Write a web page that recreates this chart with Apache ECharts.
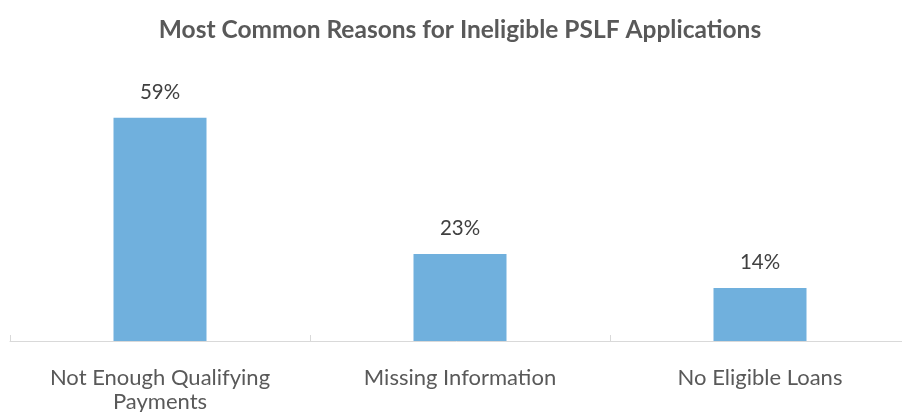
<!DOCTYPE html>
<html>
<head>
<meta charset="utf-8">
<script src="https://cdn.jsdelivr.net/npm/echarts@6/dist/echarts.min.js"></script>
<style>
  html, body { margin: 0; padding: 0; background: #fff; }
  #chart { width: 902px; height: 412px; }
</style>
</head>
<body>
<div id="chart"></div>
<script>
// Reasons an application was found ineligible, share of all ineligible (%)
const categories = ['Not Enough Qualifying Payments', 'Missing Information', 'No Eligible Loans'];
const shares = [59, 23, 14];
const categoryLabels = ['Not Enough Qualifying\nPayments', 'Missing Information', 'No Eligible Loans'];

const chart = echarts.init(document.getElementById('chart'), null, { renderer: 'canvas' });

chart.setOption({
  animation: false,
  title: {
    text: 'Most Common Reasons for Ineligible PSLF Applications',
    left: 455,
    textAlign: 'center',
    top: 13,
    textStyle: {
      fontFamily: 'Lato',
      fontSize: 24.5,
      fontWeight: 'bold',
      color: '#595959'
    }
  },
  grid: {
    left: 10, width: 900, top: 76, height: 265,
    containLabel: false,
    outerBoundsMode: 'none'
  },
  xAxis: {
    type: 'category',
    data: categories,
    axisLine: { show: true, lineStyle: { color: '#d9d9d9', width: 1 } },
    axisTick: { show: true, alignWithLabel: false, length: 6, inside: true, lineStyle: { color: '#d9d9d9' } },
    axisLabel: {
      margin: 25,
      fontFamily: 'Lato',
      fontSize: 22,
      color: '#595959',
      lineHeight: 24,
      formatter: (v, i) => categoryLabels[i]
    }
  },
  yAxis: {
    type: 'value',
    min: 0,
    max: 70,
    show: false,
    splitLine: { show: false }
  },
  series: [{
    type: 'bar',
    data: shares,
    barWidth: '31%',
    itemStyle: { color: '#70b0dd' },
    label: {
      show: true,
      position: 'top',
      distance: 15,
      formatter: p => p.value + '%',
      fontFamily: 'Lato',
      fontSize: 20.5,
      color: '#404040'
    }
  }]
});
</script>
</body>
</html>
